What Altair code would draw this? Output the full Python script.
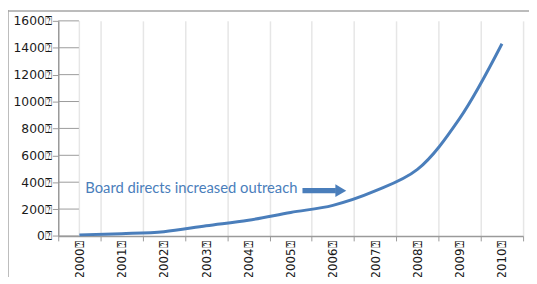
import altair as alt
import pandas as pd

years = ["2000", "2001", "2002", "2003", "2004", "2005", "2006", "2007", "2008", "2009", "2010"]
values = [8, 17, 32, 76, 117, 175, 228, 335, 495, 875, 1430]
y_ticks = [0, 200, 400, 600, 800, 1000, 1200, 1400, 1600]
note_text = "Board directs increased outreach"
note_year = "2000"
note_value = 318
arrow_from = "2005"
arrow_to = "2006"
arrow_value = 337

BLUE = "#4a7ebb"
GRAY = "#9a9a9a"
LABEL_FONT = "DejaVu Sans"

df = pd.DataFrame({"year": years, "value": values})
ticks_df = pd.DataFrame({"v": y_ticks})
note_df = pd.DataFrame({"year": [note_year], "value": [note_value], "text": [note_text]})
arrow_df = pd.DataFrame({"a": [arrow_from], "b": [arrow_to], "value": [arrow_value]})
first_df = pd.DataFrame({"year": [years[0]]})

xscale = alt.Scale(type="band", domain=years, paddingInner=0, paddingOuter=0)
yscale = alt.Scale(domain=[0, 1600], nice=False, zero=True)

x_axis = alt.Axis(
    title=None, orient="bottom", tickBand="extent", grid=True, gridColor="#e6e6e6", gridWidth=1.5,
    domainColor=GRAY, domainWidth=1.5, tickColor=GRAY, tickSize=5, tickWidth=1,
    labelAngle=270, labelPadding=0, labelFont=LABEL_FONT, labelFontSize=12, labelColor="#1a1a1a",
    labelOverlap=False,
    labelExpr="datum.label ? datum.label + '\u2370' : ''",
)
y_axis = alt.Axis(
    title=None, values=y_ticks, grid=False, domainColor=GRAY, domainWidth=1.5, tickColor=GRAY,
    tickSize=6, labelPadding=1, labelFont=LABEL_FONT, labelFontSize=12.5, labelColor="#1a1a1a",
    labelOverlap=False, labelBound=False, format="d", labelExpr="datum.label + '\u2370'",
)

line = alt.Chart(df).mark_line(color=BLUE, strokeWidth=3, interpolate="catmull-rom").encode(
    x=alt.X("year:O", scale=xscale, axis=x_axis, bandPosition=0.5, sort=years),
    y=alt.Y("value:Q", scale=yscale, axis=y_axis),
)

first_grid = alt.Chart(first_df).mark_rule(color="#e6e6e6", strokeWidth=1.5).encode(
    x=alt.X("year:O", scale=xscale, axis=x_axis, bandPosition=0.5, sort=years),
)

tick_rules = alt.Chart(ticks_df).mark_rule(color=GRAY, strokeWidth=1).encode(
    y=alt.Y("v:Q", scale=yscale, axis=y_axis),
    x=alt.value(0),
    x2=alt.value(21),
)

note = alt.Chart(note_df).mark_text(
    align="left", baseline="alphabetic", dx=6, font="Lato", fontSize=15, color=BLUE
).encode(
    x=alt.X("year:O", scale=xscale, axis=x_axis, bandPosition=0.5, sort=years),
    y=alt.Y("value:Q", scale=yscale, axis=y_axis),
    text="text:N",
)

shaft = alt.Chart(arrow_df).mark_rule(color=BLUE, strokeWidth=5.5, xOffset=12, x2Offset=3).encode(
    x=alt.X("a:O", scale=xscale, axis=x_axis, bandPosition=0.5, sort=years),
    x2=alt.X2("b"),
    y=alt.Y("value:Q", scale=yscale, axis=y_axis),
)

head = alt.Chart(arrow_df).mark_point(
    shape="M-0.85,-1L0.85,0L-0.85,1Z", size=169, filled=True, opacity=1, color=BLUE, xOffset=8
).encode(
    x=alt.X("b:O", scale=xscale, axis=x_axis, bandPosition=0.5, sort=years),
    y=alt.Y("value:Q", scale=yscale, axis=y_axis),
)

frame_left = alt.Chart(first_df).mark_rule(color="#a6a6a6", strokeWidth=1.5).encode(
    x=alt.value(-51), y=alt.value(-11), y2=alt.value(280)
)
frame_top = alt.Chart(first_df).mark_rule(color="#a6a6a6", strokeWidth=1.5).encode(
    x=alt.value(-51), x2=alt.value(480), y=alt.value(-10)
)

chart = alt.layer(
    first_grid, tick_rules, line, note, shaft, head, frame_left, frame_top
).properties(
    width=472,
    height=218.4,
    autosize=alt.AutoSizeParams(type="none"),
    padding={"left": 51, "top": 11, "right": 6, "bottom": 40},
).configure_view(stroke=None)

chart.save("out.html", embed_options={"renderer": "svg", "actions": False})
